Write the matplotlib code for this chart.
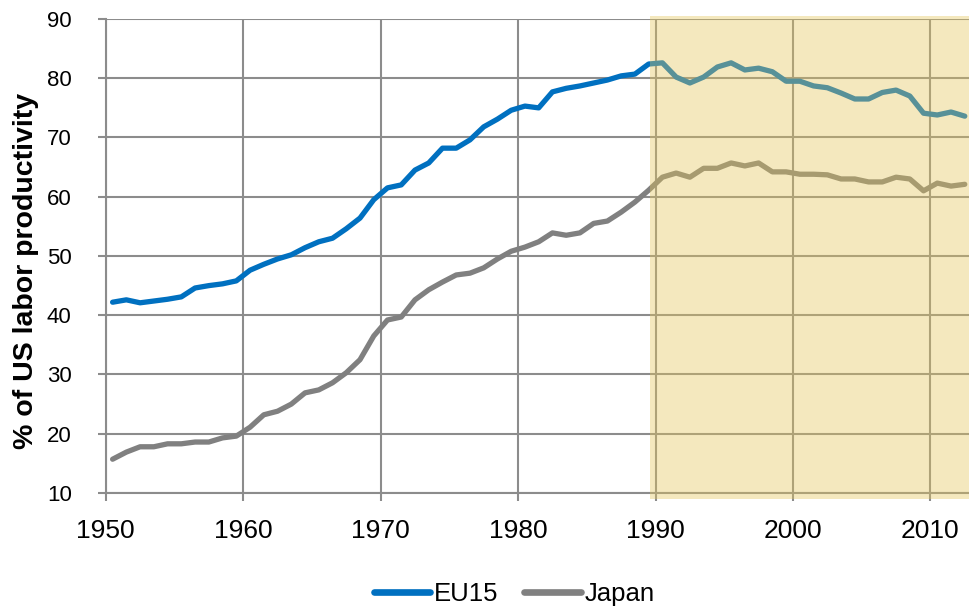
import matplotlib.pyplot as plt
from matplotlib.patches import Rectangle
import numpy as np

plt.rcParams['font.family'] = ['Liberation Sans', 'DejaVu Sans']

years = np.arange(1950, 2013)

eu15 = [42.2, 42.6, 42.1, 42.4, 42.7, 43.1, 44.6, 45.0, 45.3, 45.8,
        47.6, 48.6, 49.5, 50.2, 51.4, 52.4, 53.0, 54.6, 56.4, 59.5,
        61.5, 62.0, 64.5, 65.7, 68.2, 68.2, 69.6, 71.8, 73.1, 74.6,
        75.3, 75.0, 77.7, 78.3, 78.7, 79.2, 79.7, 80.4, 80.7, 82.4,
        82.6, 80.2, 79.2, 80.2, 81.9, 82.6, 81.4, 81.7, 81.1, 79.5,
        79.5, 78.7, 78.4, 77.5, 76.5, 76.5, 77.6, 78.0, 77.0, 74.1,
        73.8, 74.3, 73.6]

japan = [15.7, 16.9, 17.8, 17.8, 18.3, 18.3, 18.6, 18.6, 19.3, 19.6,
         21.1, 23.2, 23.8, 25.0, 26.9, 27.4, 28.6, 30.3, 32.5, 36.5,
         39.2, 39.7, 42.6, 44.3, 45.6, 46.8, 47.1, 48.0, 49.5, 50.8,
         51.5, 52.4, 53.9, 53.5, 53.9, 55.5, 55.9, 57.4, 59.1, 61.1,
         63.3, 64.0, 63.3, 64.8, 64.8, 65.7, 65.2, 65.7, 64.2, 64.2,
         63.8, 63.8, 63.7, 63.0, 63.0, 62.5, 62.5, 63.3, 63.0, 61.0,
         62.3, 61.8, 62.1]

xticks = [1950, 1960, 1970, 1980, 1990, 2000, 2010]
yticks = [10, 20, 30, 40, 50, 60, 70, 80, 90]

grid_col = '#8c8c8c'

fig = plt.figure(figsize=(9.7, 6.09), dpi=100)
ax = fig.add_axes([0.109, 0.1905, 0.891, 0.7783])

# points sit in the middle of each year slot
ax.plot(years + 0.5, eu15, color='#0070c0', lw=3.8, label='EU15', solid_capstyle='round', zorder=3)
ax.plot(years + 0.5, japan, color='#808080', lw=3.8, label='Japan', solid_capstyle='round', zorder=3)

ax.set_xlim(1950, 2012.88)
ax.set_ylim(10, 90)
ax.set_xticks(xticks)
ax.set_yticks(yticks)
ax.grid(True, color=grid_col, lw=1.5, zorder=1)
ax.set_axisbelow(True)

for s in ['top', 'right']:
    ax.spines[s].set_visible(False)
for s in ['left', 'bottom']:
    ax.spines[s].set_color(grid_col)
    ax.spines[s].set_linewidth(1.5)

ax.xaxis.set_tick_params(color=grid_col, width=1.5, length=6, labelcolor='black',
                         pad=13, labelsize=19)
ax.yaxis.set_tick_params(color=grid_col, width=1.5, length=6, labelcolor='black',
                         pad=18.5, labelsize=16)

ax.set_ylabel('% of US labor productivity', fontsize=20.5, fontweight='bold', va='center')
ax.yaxis.set_label_coords(-0.0925, 0.468)

# shaded period from 1990 on, drawn over the lines
shade = Rectangle((1989.6, 9.0), 2013 - 1989.6, 90.5 - 9.0, facecolor='#e5c659',
                  alpha=0.39, edgecolor='none', clip_on=False, zorder=4)
ax.add_patch(shade)

leg = fig.legend(loc='center', bbox_to_anchor=(0.530, 0.024), ncol=2, frameon=False,
                 fontsize=18.5, handlelength=2.2, handletextpad=0.15, columnspacing=1.0)
for h in leg.legend_handles:
    h.set_linewidth(4.8)

plt.savefig('out.png', dpi=100)
plt.close()
